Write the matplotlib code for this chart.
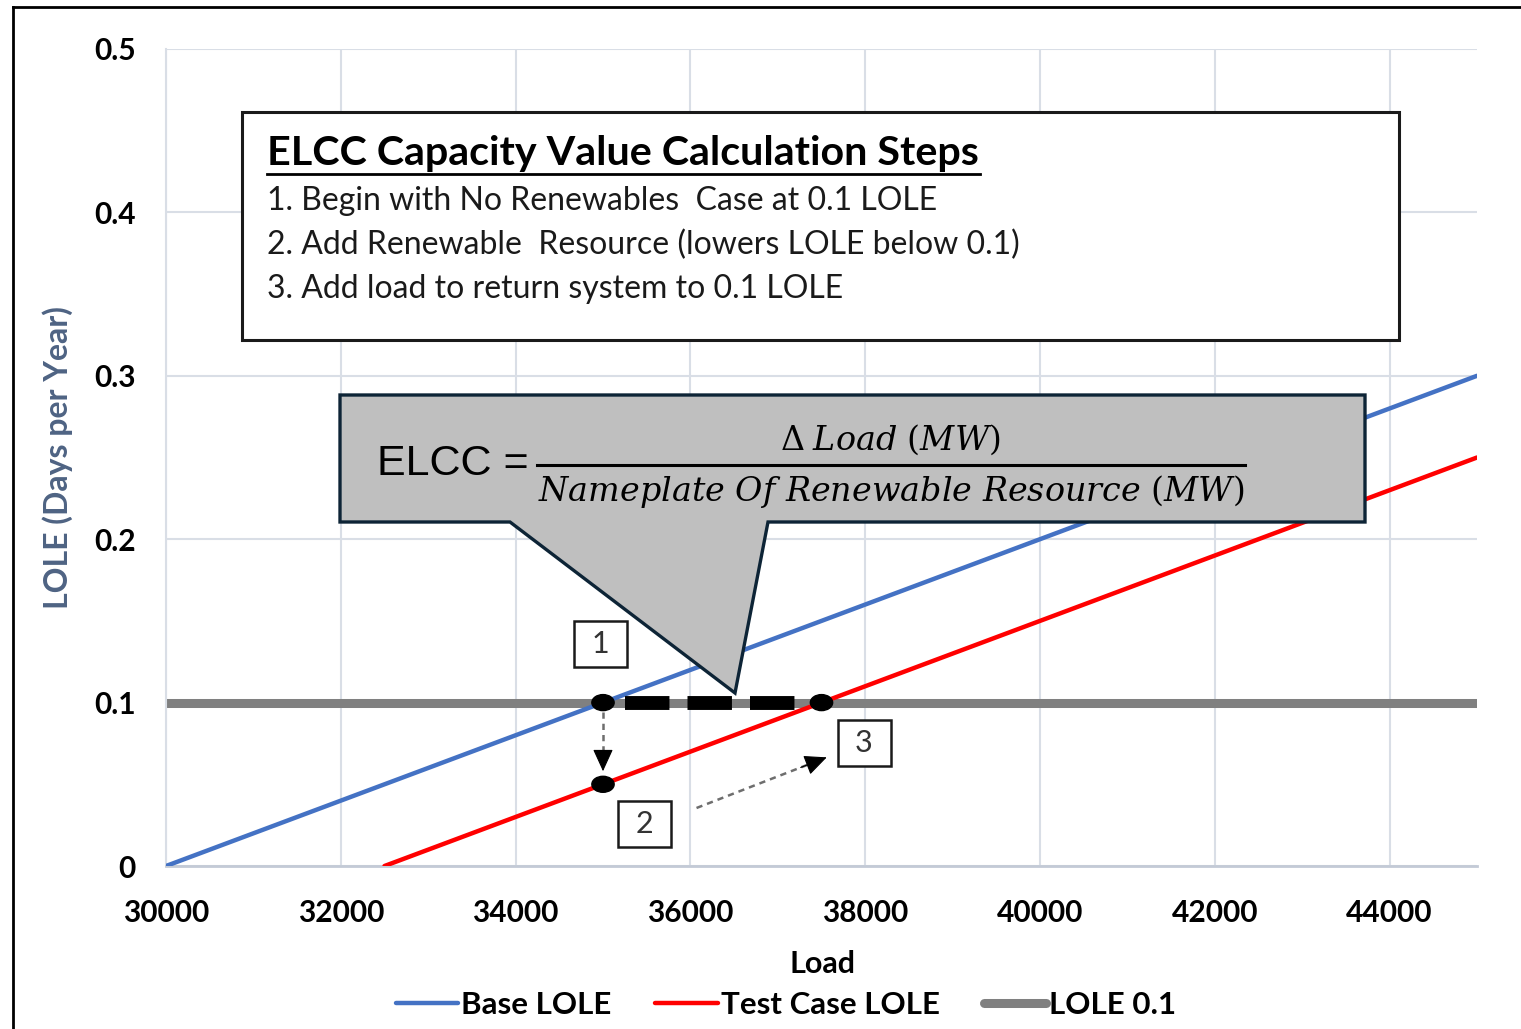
import matplotlib
matplotlib.use("Agg")
import matplotlib.pyplot as plt
from matplotlib.patches import Polygon, Rectangle, Ellipse
from matplotlib.lines import Line2D
from matplotlib.transforms import Affine2D

plt.rcParams['font.family'] = ['Lato', 'DejaVu Sans']
plt.rcParams['mathtext.fontset'] = 'dejavuserif'

W, H = 1521, 1029

# LOLE curves
base_load = [30000, 45000]
base_lole = [0.0, 0.3]
test_load = [32500, 45000]
test_lole = [0.0, 0.25]
target_load = [30000, 45000]
target_lole = [0.1, 0.1]

# step points: 1 = base at 0.1, 2 = test at same load, 3 = test back at 0.1
step_load = [35000, 35000, 37500]
step_lole = [0.1, 0.05, 0.1]

x_ticks = [30000, 32000, 34000, 36000, 38000, 40000, 42000, 44000]
y_ticks = [0, 0.1, 0.2, 0.3, 0.4, 0.5]
y_tick_labels = ['0', '0.1', '0.2', '0.3', '0.4', '0.5']

steps_title = "ELCC Capacity Value Calculation Steps"
steps = ["1. Begin with No Renewables  Case at 0.1 LOLE",
         "2. Add Renewable  Resource (lowers LOLE below 0.1)",
         "3. Add load to return system to 0.1 LOLE"]

fig = plt.figure(figsize=(W / 100, H / 100), dpi=100)
ax = fig.add_axes([166 / W, 1 - 866 / H, (1477 - 166) / W, (866 - 49) / H])

# pixel coordinates (origin top-left) for the overlay boxes
pix = Affine2D().scale(1 / W, -1 / H).translate(0, 1) + fig.transFigure

grid_c = '#D9DEE6'
ax.set_xlim(30000, 45000)
ax.set_ylim(0, 0.5)
ax.set_xticks(x_ticks)
ax.set_yticks(y_ticks)
ax.set_yticklabels(y_tick_labels)
ax.grid(True, color=grid_c, lw=1.5)
ax.set_axisbelow(True)
for s in ['top', 'right']:
    ax.spines[s].set_visible(False)
ax.spines['left'].set_color(grid_c)
ax.spines['left'].set_linewidth(1.5)
ax.spines['bottom'].set_color('#C3CAD6')
ax.spines['bottom'].set_linewidth(2)
ax.tick_params(length=0, labelsize=21.5)
ax.tick_params(axis='y', pad=22)
ax.tick_params(axis='x', pad=24)
for lab in ax.get_xticklabels() + ax.get_yticklabels():
    lab.set_fontweight('bold')

ax.plot(base_load, base_lole, color='#4472C4', lw=3.2, solid_capstyle='round',
        label='Base LOLE', zorder=3)
ax.plot(test_load, test_lole, color='#FF0000', lw=3.2, solid_capstyle='round',
        label='Test Case LOLE', zorder=3)
ax.plot(target_load, target_lole, color='#808080', lw=6.5, solid_capstyle='round',
        label='LOLE 0.1', zorder=2)

# delta load dashes between point 1 and point 3
ax.plot([35250, 37230], [0.1, 0.1], color='black', lw=10, dashes=(3.2, 1.3),
        solid_capstyle='butt', dash_capstyle='butt', zorder=4)

for x, y in zip(step_load, step_lole):
    ax.add_patch(Ellipse((x, y), 255, 0.0098, color='black', zorder=5))

# dotted arrows: 1 -> 2 and 2 -> 3 (grey shaft, black head)
arrows = [((step_load[0], 0.094), (step_load[1], 0.058)),
          ((36070, 0.0355), (37560, 0.0665))]
for (x0, y0), (x1, y1) in arrows:
    ax.plot([x0, x0 + 0.85 * (x1 - x0)], [y0, y0 + 0.85 * (y1 - y0)],
            color='#6E6E6E', lw=1.8, ls=(0, (2.5, 2)), zorder=4)
    ax.annotate('', xy=(x1, y1), xytext=(x0 + 0.8 * (x1 - x0), y0 + 0.8 * (y1 - y0)),
                arrowprops=dict(arrowstyle='-|>,head_width=0.32,head_length=0.7',
                                mutation_scale=20, color='black', lw=0.8,
                                shrinkA=0, shrinkB=0), zorder=4)

# axis labels
ax.set_xlabel('Load', fontsize=22, fontweight='bold')
ax.xaxis.set_label_coords((822 - 166) / 1311, -(950 - 866) / 817)
ax.set_ylabel('LOLE (Days per Year)', fontsize=23, fontweight='bold', color='#4E6383')
ax.yaxis.set_label_coords((73 - 166) / 1311, 0.5)

ax.legend(loc='center', bbox_to_anchor=(786 / W, 1 - 1005 / H),
          bbox_transform=fig.transFigure, ncol=3, frameon=False,
          prop=dict(size=22.5, weight='bold'), handlelength=2.0,
          handletextpad=0.1, columnspacing=1.4, borderaxespad=0)

# outer frame (top and left edges)
fig.add_artist(Line2D([13, W], [7, 7], transform=pix, color='black', lw=2))
fig.add_artist(Line2D([13, 13], [7, H], transform=pix, color='black', lw=2))

# steps box
fig.add_artist(Rectangle((242, 112), 1399 - 242, 340 - 112, transform=pix,
                         fc='white', ec='#1A1A1A', lw=2.2, zorder=5))
fig.text(267, 153, steps_title, transform=pix, fontsize=29.7, fontweight='bold',
         va='center', ha='left', zorder=6)
fig.add_artist(Line2D([267, 980], [174, 174], transform=pix, color='black', lw=2, zorder=6))
for i, line in enumerate(steps):
    fig.text(267, 201 + 44 * i, line, transform=pix, fontsize=23,
             va='center', ha='left', color='#1A1A1A', zorder=6)

# callout with the ELCC formula
callout = [(340, 395), (1365, 395), (1365, 522), (768, 522), (735, 693),
           (510, 522), (340, 522)]
fig.add_artist(Polygon(callout, closed=True, transform=pix, fc='#BFBFBF',
                       ec='#0D2436', lw=2.4, joinstyle='miter', zorder=7))
fig.text(377, 464, 'ELCC =', transform=pix, fontsize=31, family='Liberation Sans',
         va='center', ha='left', zorder=8)
fig.add_artist(Line2D([537, 1245], [465, 465], transform=pix, color='black', lw=2.2, zorder=8))
fig.text(890, 440, r'$\Delta\;Load\ (MW)$', transform=pix, fontsize=24,
         va='center', ha='center', zorder=8)
fig.text(891, 491, r'$Nameplate\ Of\ Renewable\ Resource\ (MW)$', transform=pix,
         fontsize=24, va='center', ha='center', zorder=8)

# step number boxes
for label, (bx, by) in zip(['1', '2', '3'], [(600, 644), (644, 824), (864, 743)]):
    fig.add_artist(Rectangle((bx - 26, by - 23), 53, 46, transform=pix,
                             fc='white', ec='#1A1A1A', lw=1.8, zorder=6))
    fig.text(bx, by, label, transform=pix, fontsize=22, va='center', ha='center',
             color='#333333', zorder=7)

fig.savefig('out.png', dpi=100)
